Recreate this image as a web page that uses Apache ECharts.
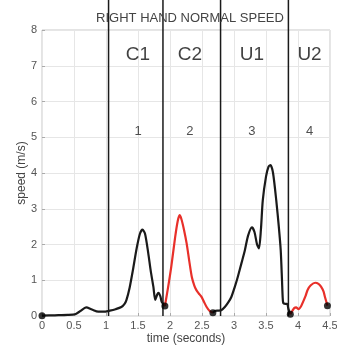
<!DOCTYPE html>
<html>
<head>
<meta charset="utf-8">
<script src="https://cdn.jsdelivr.net/npm/echarts@6/dist/echarts.min.js"></script>
<style>
  html, body { margin: 0; padding: 0; background: #fff; }
  #chart { width: 337px; height: 348px; }
</style>
</head>
<body>
<div id="chart"></div>
<script>
// Hand speed over time, split into four movement phases.
const phase1 = [[0,0.01],[0.2,0.02],[0.4,0.03],[0.52,0.05],[0.6,0.14],[0.69,0.24],[0.78,0.18],[0.88,0.12],[0.96,0.12],[1.06,0.15],[1.15,0.19],[1.24,0.25],[1.29,0.34],[1.32,0.45],[1.37,0.8],[1.42,1.28],[1.48,1.9],[1.53,2.3],[1.57,2.42],[1.61,2.3],[1.66,1.76],[1.70,1.25],[1.74,0.82],[1.77,0.45],[1.80,0.6],[1.82,0.65],[1.85,0.55],[1.87,0.4],[1.92,0.28]];
const phase2 = [[1.92,0.28],[1.97,0.8],[2.02,1.38],[2.08,2.2],[2.12,2.65],[2.15,2.82],[2.18,2.7],[2.22,2.4],[2.26,2.03],[2.30,1.55],[2.34,1.10],[2.38,0.85],[2.41,0.73],[2.45,0.63],[2.49,0.54],[2.53,0.4],[2.57,0.26],[2.62,0.14],[2.67,0.09]];
const phase3 = [[2.67,0.09],[2.70,0.14],[2.75,0.15],[2.80,0.16],[2.86,0.26],[2.91,0.38],[2.96,0.54],[3.01,0.8],[3.06,1.10],[3.12,1.5],[3.17,1.84],[3.22,2.25],[3.28,2.48],[3.32,2.35],[3.36,2.0],[3.39,1.89],[3.42,2.4],[3.45,3.24],[3.50,3.9],[3.54,4.18],[3.57,4.22],[3.61,4.0],[3.66,3.24],[3.70,2.5],[3.73,1.84],[3.75,1.0],[3.76,0.54],[3.77,0.36],[3.80,0.34],[3.83,0.34],[3.85,0.2],[3.88,0.05]];
const phase4 = [[3.88,0.05],[3.91,0.14],[3.94,0.22],[3.97,0.24],[4.01,0.19],[4.05,0.28],[4.08,0.40],[4.12,0.57],[4.15,0.73],[4.20,0.86],[4.27,0.93],[4.32,0.9],[4.36,0.82],[4.40,0.68],[4.42,0.54],[4.46,0.29]];

// Segment boundary points (black dots)
const boundaryPoints = [[0,0.01],[1.92,0.28],[2.67,0.09],[3.88,0.05],[4.46,0.29]];

// Phase divider times
const dividerTimes = [1.04, 1.89, 2.79, 3.85];

// Phase names and numbers, anchored by time
const phaseNames = ['C1', 'C2', 'U1', 'U2'];
const phaseNumbers = ['1', '2', '3', '4'];
const phaseLabelTimes = [1.5, 2.31, 3.28, 4.18];
const phaseNameSpeed = 7.32;
const phaseNumberSpeed = 5.17;

const xTicks = [0, 0.5, 1, 1.5, 2, 2.5, 3, 3.5, 4, 4.5];
const yTicks = [0, 1, 2, 3, 4, 5, 6, 7, 8];

const FONT = 'Liberation Sans, Arial, sans-serif';
const BLACK = '#1a1a1a';
const RED = '#e8302a';

const curve = (data, color) => ({
  type: 'line', data, smooth: 0.25, showSymbol: false, silent: true,
  lineStyle: { color, width: 2.2 }, z: 3
});

const dividers = dividerTimes.map(t => ({
  type: 'line', data: [[t, 0], [t, 8.95]], showSymbol: false, silent: true,
  clip: false, lineStyle: { color: '#1a1a1a', width: 1.5 }, z: 2
}));

const option = {
  animation: false,
  backgroundColor: '#fff',
  title: {
    text: 'RIGHT HAND NORMAL SPEED',
    left: 185, top: 7, textAlign: 'center',
    textStyle: { fontFamily: FONT, fontSize: 13, fontWeight: 'normal', color: '#444' }
  },
  grid: {
    left: 42, right: 7, top: 30, bottom: 32, outerBoundsMode: 'none',
    show: true, borderColor: '#c8c8c8', borderWidth: 1
  },
  xAxis: {
    type: 'value', min: 0, max: 4.5, interval: 0.5,
    name: 'time (seconds)', nameLocation: 'middle', nameGap: 17, nameMoveOverlap: false,
    nameTextStyle: { fontFamily: FONT, fontSize: 12, color: '#444' },
    axisLine: { show: false },
    axisTick: { show: true, inside: true, length: 3, lineStyle: { color: '#aaa' } },
    axisLabel: { fontFamily: FONT, fontSize: 11, color: '#555', margin: 4,
      formatter: v => xTicks.includes(v) ? String(v) : '' },
    splitLine: { show: true, lineStyle: { color: '#e6e6e6', width: 1 } }
  },
  yAxis: {
    type: 'value', min: 0, max: 8, interval: 1,
    name: 'speed (m/s)', nameLocation: 'middle', nameGap: 14, nameMoveOverlap: false,
    nameTextStyle: { fontFamily: FONT, fontSize: 12, color: '#444' },
    axisLine: { show: false },
    axisTick: { show: true, inside: true, length: 3, lineStyle: { color: '#aaa' } },
    axisLabel: { fontFamily: FONT, fontSize: 11, color: '#555', margin: 5,
      formatter: v => yTicks.includes(v) ? String(v) : '' },
    splitLine: { show: true, lineStyle: { color: '#e6e6e6', width: 1 } }
  },
  series: [
    ...dividers,
    curve(phase1, BLACK),
    curve(phase2, RED),
    curve(phase3, BLACK),
    curve(phase4, RED),
    {
      type: 'scatter', data: boundaryPoints, symbolSize: 7, silent: true,
      itemStyle: { color: '#000' }, z: 5
    },
    {
      type: 'scatter', symbolSize: 0, silent: true, z: 6,
      data: phaseLabelTimes.map((t, i) => ({ value: [t, phaseNameSpeed], name: phaseNames[i] })),
      label: { show: true, position: 'inside', formatter: p => p.name,
        fontFamily: FONT, fontSize: 19, color: '#111' }
    },
    {
      type: 'scatter', symbolSize: 0, silent: true, z: 6,
      data: phaseLabelTimes.map((t, i) => ({ value: [t, phaseNumberSpeed], name: phaseNumbers[i] })),
      label: { show: true, position: 'inside', formatter: p => p.name,
        fontFamily: FONT, fontSize: 13, color: '#222' }
    }
  ]
};

echarts.init(document.getElementById('chart'), null, { renderer: 'canvas' }).setOption(option);
</script>
</body>
</html>
